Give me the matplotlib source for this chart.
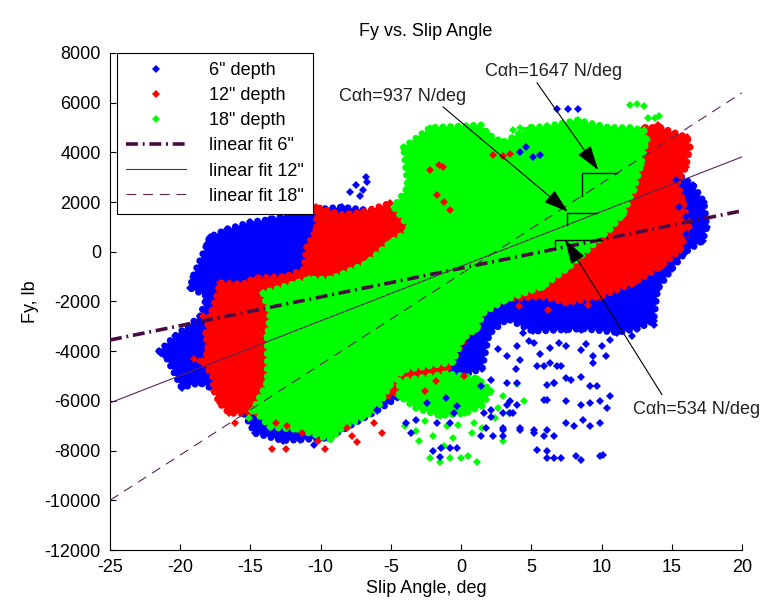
import numpy as np
import matplotlib
matplotlib.use('Agg')
import matplotlib.pyplot as plt
from matplotlib.lines import Line2D

plt.rcParams['font.family'] = ['Liberation Sans', 'DejaVu Sans']
plt.rcParams['font.size'] = 13
plt.rcParams['lines.scale_dashes'] = False
plt.rcParams['axes.unicode_minus'] = False

# ---- data (slip angle in deg, Fy in lb) ----
# outline of each point cloud
blue_x = [-21.5, -20.4, -18.6, -18.1, -19.3, -19.1, -18.1, -17.9, -16.7, -15.0, -13.6, -12.0,
          -10.4, -8.5, -7.0, -5.5, -4.0, 0.0, 8.0, 12.0, 15.1, 15.6, 16.5, 17.3, 17.5, 17.2,
          16.0, 15.0, 14.0, 13.7, 12.5, 11.1, 8.7, 5.1, 3.3, 2.0, 1.5, 0.0, -3.0, -6.0, -9.5,
          -12.7, -14.7, -15.7, -16.5, -18.6, -19.9, -21.0]
blue_y = [-4000, -3400, -2600, -1800, -1450, -1000, 300, 600, 900, 1200, 1300, 1550,
          1700, 1800, 1700, 1500, 1400, 1000, 1500, 2000, 3000, 3050, 2700, 2000, 1000, 450,
          0, -700, -1500, -2800, -3100, -3250, -3100, -3200, -2700, -3300, -4700, -5000, -5300,
          -6400, -7500, -7600, -7300, -6250, -5850, -5270, -5470, -4250]

red_x = [-18.4, -18.0, -18.2, -17.9, -17.4, -17.2, -15.5, -14.5, -12.5, -11.2, -11.0, -10.3,
         -10.3, -8.5, -7.0, -5.1, -4.4, -2.0, 2.0, 8.0, 11.0, 12.3, 13.0, 14.2, 16.1, 16.3,
         16.0, 15.4, 15.8, 16.2, 15.6, 14.2, 12.3, 9.9, 7.5, 5.8, 3.3, 1.5, 0.5, -0.8, -1.2,
         -3.1, -6.0, -8.0, -10.0, -12.5, -13.8, -14.5, -16.5, -17.2, -17.6, -17.7]
red_y = [-4400, -4000, -3300, -2600, -1800, -1250, -1300, -1050, -1000, -700, 200, 900,
         1800, 1500, 1600, 1950, 1500, 1500, 2500, 3800, 4300, 4600, 5000, 5000, 4600, 4200,
         3400, 2800, 2000, 1000, 80, -600, -1250, -1800, -2050, -1800, -1900, -2400, -3300,
         -4500, -5000, -5300, -6000, -6500, -6800, -6800, -6750, -6500, -6500, -6100, -5600,
         -5000]

green_x = [-4.1, -2.2, 1.4, 2.0, 3.0, 4.9, 6.1, 8.3, 10.5, 12.0, 13.0, 13.2, 12.8, 12.3,
           11.5, 10.6, 7.5, 5.8, 3.3, 1.6, 1.1, 0.1, -0.6, -4.1, -5.1, -6.0, -7.0, -8.6, -9.3,
           -11.7, -13.6, -14.8, -13.8, -13.8, -13.6, -14.1, -11.7, -10.8, -9.3, -6.7, -5.1,
           -3.6, -4.8, -3.8]
green_y = [4200, 5000, 5100, 4700, 4400, 5000, 5050, 5300, 5000, 5000, 4900, 4500, 3500, 2500,
           1500, 900, -700, -1400, -1900, -2450, -3100, -3500, -4450, -4750, -5400, -6350, -6650,
           -7150, -7550, -7150, -7050, -6350, -5250, -3400, -2600, -1650, -1250, -1100, -1100,
           -450, 350, 900, 1800, 2600]

green_lobe_x = [-4.4, -1.0, 1.2, 2.1, 1.5, 0.3, -1.5, -3.2, -4.4]
green_lobe_y = [-5200, -4900, -5100, -5600, -6200, -6500, -6600, -6300, -5800]

# loose points outside the dense clouds
blue_pts_x = [4.4, 5.4, 6.6, 7.5, 8.5, 9.7, 10.4, 11.1, 11.8, 13.7, 4.0, 5.2, 6.3, 7.5, 8.5,
              9.4, 10.6, 3.3, 4.2, 6.3, 6.8, 9.4, 10.3, 5.4, 5.9, 7.1, 3.3, 4.0, 6.1, 6.6, 7.5,
              8.5, 9.2, 9.7, 3.5, 3.7, 6.1, 7.5, 8.5, 9.2, 9.9, 10.6, 10.4, 3.0, 4.2, 5.2, 6.1,
              6.6, 7.5, 8.0, 8.7, 9.2, 9.9, 5.4, 6.1, 6.1, 6.6, 7.1, 8.2, 8.5, 9.9, 10.1,
              -6.0, -3.9, -3.2, -1.7, -0.8, -0.5, -0.3, -3.6, -2.0, -1.4, -0.8, -0.3, -1.5,
              1.4, 2.1, 1.6, 2.1, 1.4, 2.3, 3.0, 2.1, 3.3, 4.0, 3.0, 3.5, 5.9, 7.8, 6.6,
              1.8, 3.0, 4.2, 5.2, 5.9, -12.7, -11.5, -10.5,
              6.8, 7.6, 8.3, 4.6, 4.2, 5.1, 5.6, -7.9, -7.5, -7.0, -6.8, -7.2, -6.7,
              15.3, 15.8, 16.3, 16.8, 17.0, 16.5, 17.2, 16.0, 16.8, 15.5, 16.0, 13.0, 13.5,
              2.6, 3.9, 4.8, 5.6, 7.0, 8.9, 10.0, 12.2, 1.2, 0.6, -1.1, -2.4]
blue_pts_y = [-3270, -3140, -3010, -3140, -3140, -3010, -3140, -3140, -3070, -2940, -3810, -3680,
              -3880, -3810, -3940, -4210, -3540, -4210, -4350, -4480, -4610, -4480, -4210, -4610,
              -4610, -4610, -5280, -5280, -5350, -5280, -5080, -5020, -5420, -5420, -6020, -6490,
              -5960, -6020, -6160, -6090, -6020, -5820, -6290, -7160, -7160, -7300, -7160, -7430,
              -6890, -7030, -6760, -7030, -6890, -7970, -8030, -8300, -8300, -8300, -8230, -8370,
              -8230, -8170,
              -6360, -6890, -6760, -6890, -6890, -6490, -6220, -7300, -8030, -7900, -7900, -7900,
              -8240, -5420, -5150, -6490, -6630, -7430, -7430, -7430, -6360, -6160, -6160, -6490,
              -6490, -5960, -5150, -5290, -7100, -7100, -7100, -7160, -7430, -7560, -7560, -7770,
              5750, 5750, 5750, 4230, 4000, 3800, 3900, 2400, 2700, 2500, 3020, 2250, 2800,
              2900, 2700, 2300, 1900, 1500, 1200, 900, 700, 500, 1800, 1400, -1400, -1700,
              -3900, -4700, -3600, -4100, -3650, -3700, -3800, -3400, -3900, -4300, -5900, -6100]

red_pts_x = [-2.2, -1.6, -1.3, -1.7, -1.2, -0.8, 2.3, 3.0, 3.5, -13.5, -12.5, -9.7, -8.1,
             -7.4, -7.8, -19.0, -18.6, -18.4, -18.0, -14.5, -15.0, -11.0, -10.9, 13.5, 14.0,
             -10.2, -11.3, -6.2, -5.6, -2.6, -1.8, 0.2, -12.4, -13.2, -16.1, 4.1, 6.2, 9.0]
red_pts_y = [3300, 3500, 3400, 2300, 2000, 1700, 3900, 3850, 3950, -7950, -7950, -7950, -7100,
             -7650, -7400, -4300, -4400, -2600, -2650, -1150, -1150, 200, -600, 5000, 5100,
             -7600, -7300, -6900, -7300, -5600, -5200, -5000, -7000, -6900, -6900, -2200,
             -2350, -2150]

green_pts_x = [12.0, 12.5, 13.0, 13.3, 13.8, 14.1, 3.7, 4.2, 4.9, -2.2, -1.5, -0.8, 0.0, 0.5,
               1.1, 2.0, 3.0, 4.0, 4.5, 1.5, 3.0, -3.0, -4.0, -15.1, -14.9, -14.1, -13.6,
               -2.0, -0.6, 0.8, 2.4, 3.4, -1.2, -3.2, -2.6, -1.0, 0.9, 2.6, -0.2]
green_pts_y = [5900, 5950, 5850, 5400, 5400, 5450, 4900, 5000, 5000, -8300, -8450, -8300, -8300,
               -8200, -8450, -5600, -5800, -5300, -6000, -7100, -7600, -7600, -7000, -6700,
               -6400, -1650, -1800, -7400, -7500, -7300, -6700, -6500, -7800, -7200, -6800,
               -7000, -6900, -6300, -6950]

# linear fits: Fy at slip angle -25 and 20 deg
fit_x = [-25, 20]
fit6_y = [-3550, 1650]
fit12_y = [-6080, 3820]
fit18_y = [-10000, 6400]

# slope triangles (x start, x end) and the callout texts
tri_x = [(6.7, 10.0), (7.55, 9.7), (8.6, 11.1)]
callouts = ['C\u03b1h=534 N/deg', 'C\u03b1h=937 N/deg', 'C\u03b1h=1647 N/deg']
callout_text_xy = [(12.25, -6360), (-8.7, 6240), (1.7, 7240)]
callout_start_xy = [(14.3, -5750), (-1.3, 5835), (5.4, 6800)]
callout_tip_xy = [(7.4, 480), (7.6, 1610), (9.75, 3300)]

BLUE, RED, GREEN = '#0000ff', '#ff0000', '#00ff00'
PURPLE_DARK = '#4a0a42'
PURPLE = '#5c2456'
MS = 4.2


def cloud(ax, xs, ys, color, z):
    ax.fill(xs, ys, color=color, lw=0, zorder=z)
    # beaded outline so the cloud edge looks made of markers
    ax.plot(list(xs) + [xs[0]], list(ys) + [ys[0]], color=color, lw=5,
            ls=(0, (0.01, 5.5)), dash_capstyle='round', zorder=z + 0.01)
    ax.plot(xs, ys, 'D', ms=MS, mew=0, color=color, ls='none', zorder=z + 0.02)


fig = plt.figure(figsize=(7.72, 6.07), dpi=100)
ax = fig.add_axes([0.1425, 0.0939, 0.8187, 0.8188])

cloud(ax, blue_x, blue_y, BLUE, 1.0)
cloud(ax, red_x, red_y, RED, 1.1)
cloud(ax, green_x, green_y, GREEN, 1.2)
cloud(ax, green_lobe_x, green_lobe_y, GREEN, 1.3)
ax.plot(green_pts_x, green_pts_y, 'D', ms=MS, mew=0, color=GREEN, ls='none', zorder=1.4)
ax.plot(blue_pts_x, blue_pts_y, 'D', ms=MS, mew=0, color=BLUE, ls='none', zorder=1.5)
ax.plot(red_pts_x, red_pts_y, 'D', ms=MS, mew=0, color=RED, ls='none', zorder=1.6)

ax.plot(fit_x, fit6_y, color=PURPLE_DARK, lw=2.6, ls=(0, (8.6, 3.4, 1.4, 3.4)), zorder=3)
ax.plot(fit_x, fit12_y, color=PURPLE, lw=0.8, zorder=3)
ax.plot(fit_x, fit18_y, color=PURPLE, lw=0.8, ls=(0, (7, 5)), zorder=3)

for fy, (x0, x1) in zip([fit6_y, fit12_y, fit18_y], tri_x):
    y0 = np.interp(x0, fit_x, fy)
    y1 = np.interp(x1, fit_x, fy)
    ax.plot([x0, x0, x1], [y0, y1, y1], color='black', lw=1, zorder=4)

for txt, txy, sxy, exy in zip(callouts, callout_text_xy, callout_start_xy, callout_tip_xy):
    ax.text(txy[0], txy[1], txt, ha='left', va='center', fontsize=13, color='#222222',
            clip_on=False, zorder=4)
    ax.annotate('', xy=exy, xytext=sxy, zorder=4,
                arrowprops=dict(arrowstyle='-|>,head_length=1.1,head_width=0.35',
                                color='black', lw=0.8, mutation_scale=14,
                                shrinkA=0, shrinkB=0))

ax.set_xlim(-25, 20)
ax.set_ylim(-12000, 8000)
ax.set_xticks(np.arange(-25, 21, 5))
ax.set_yticks(np.arange(-12000, 8001, 2000))
ax.tick_params(direction='in', length=4.5, width=0.8, pad=6.5, labelsize=13)
ax.spines['top'].set_visible(False)
ax.spines['right'].set_visible(False)
ax.set_title('Fy vs. Slip Angle', fontsize=13, pad=12)
ax.set_xlabel('Slip Angle, deg', fontsize=13, labelpad=3)
ax.set_ylabel('Fy, lb', fontsize=13, labelpad=4)

handles = [
    Line2D([], [], marker='D', ms=4, mew=0, color=BLUE, ls='none'),
    Line2D([], [], marker='D', ms=4, mew=0, color=RED, ls='none'),
    Line2D([], [], marker='D', ms=4, mew=0, color=GREEN, ls='none'),
    Line2D([], [], color=PURPLE_DARK, lw=2.6, ls=(0, (8.6, 3.4, 1.4, 3.4))),
    Line2D([], [], color=PURPLE, lw=0.8),
    Line2D([], [], color=PURPLE, lw=0.8, ls=(0, (7, 5))),
]
labels = ['6" depth', '12" depth', '18" depth', 'linear fit 6"', 'linear fit 12"',
          'linear fit 18"']
leg = ax.legend(handles, labels, loc='upper left', bbox_to_anchor=(0.011, 1.0),
                borderaxespad=0, fancybox=False, framealpha=1, edgecolor='black',
                handlelength=3.3, handletextpad=1.3, labelspacing=0.45, borderpad=0.5,
                fontsize=13)
leg.get_frame().set_linewidth(0.8)

fig.savefig('out.png', dpi=100)
